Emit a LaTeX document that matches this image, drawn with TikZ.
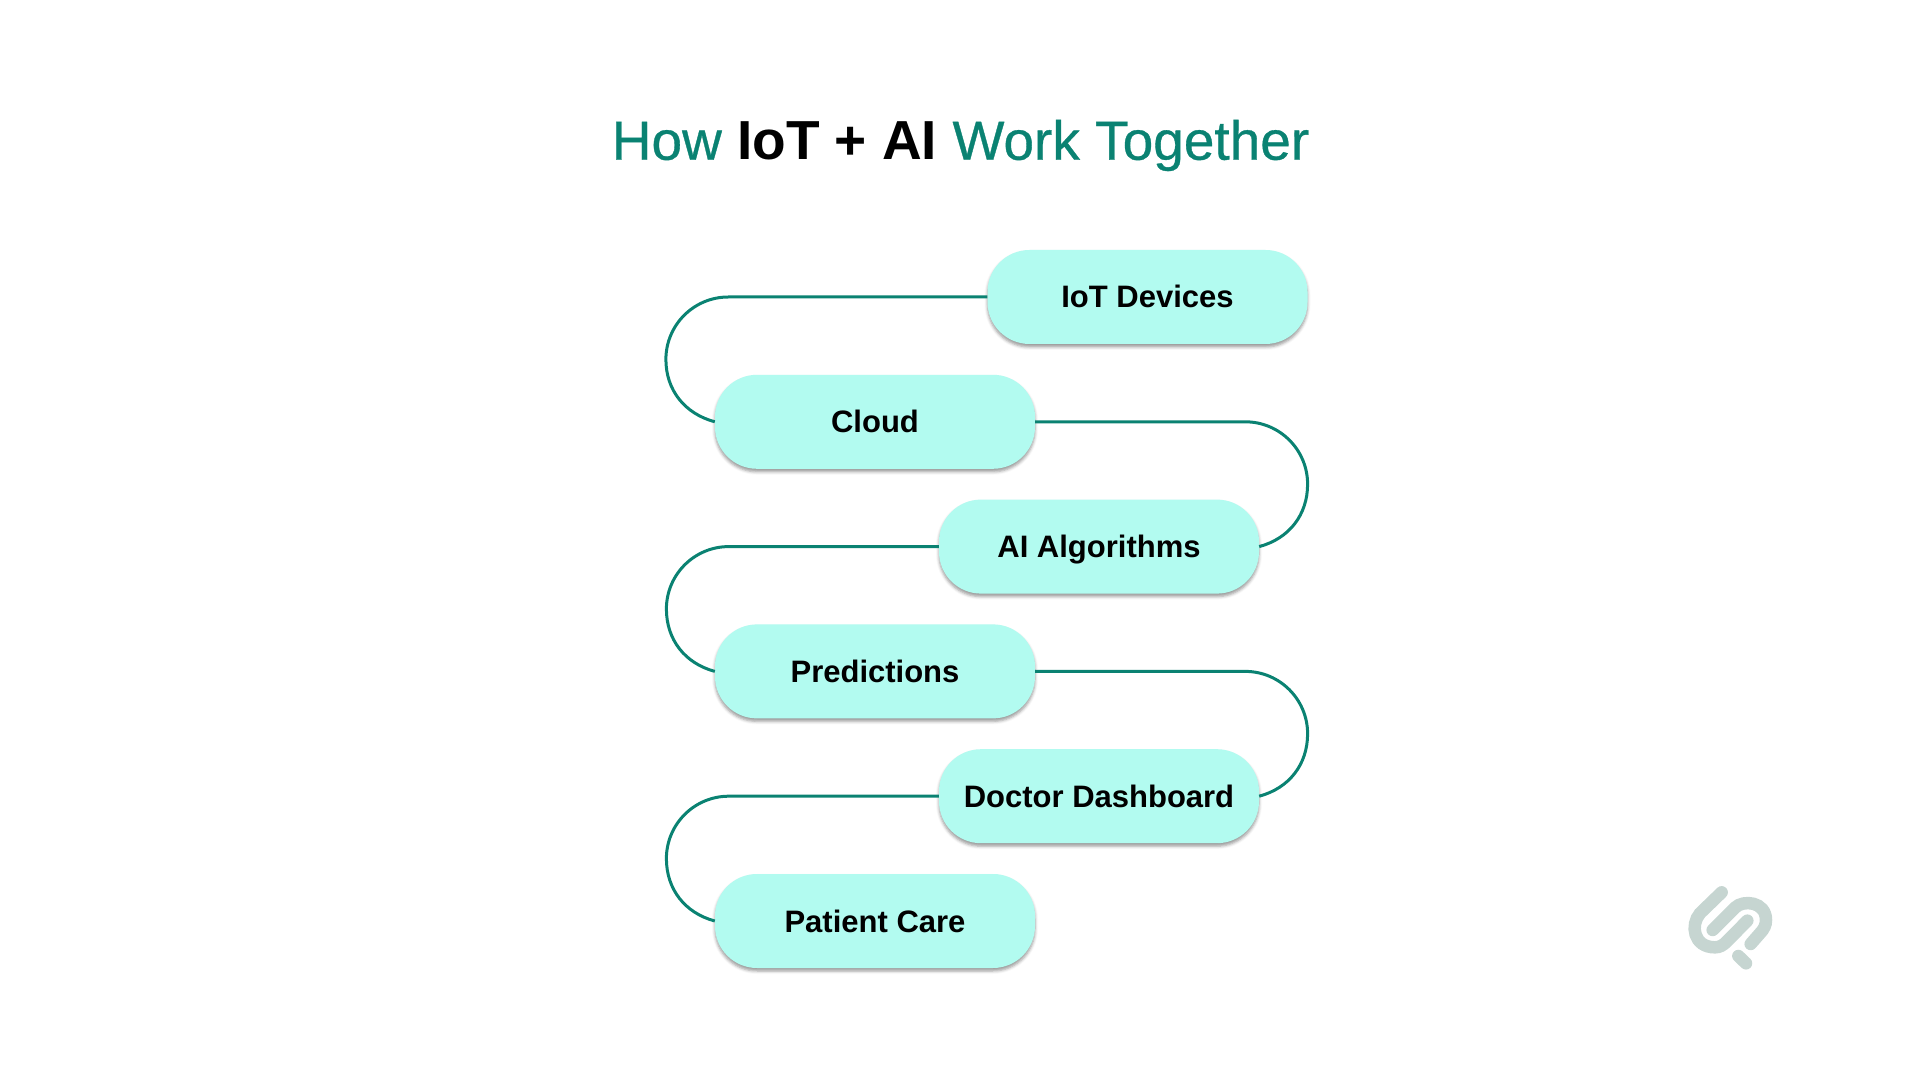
\documentclass[tikz,border=0pt]{standalone}
\usepackage{tikz}
\usepackage{xcolor}
\usepackage{fontspec}
\setmainfont{Liberation Sans}
\newfontfamily\titlefont[FakeBold=0.6]{Liberation Sans}
\usetikzlibrary{positioning,shadows.blur}
\definecolor{flowteal}{HTML}{0A8272}
\definecolor{flowfill}{HTML}{B2FBF0}
\definecolor{markgrey}{HTML}{C6D5D1}

\begin{document}
\begin{tikzpicture}[x=1pt,y=1pt,node distance=124.8pt,
                flow node/.style={rectangle,rounded corners=42pt,fill=flowfill,minimum width=320pt,minimum height=94pt,
                  inner sep=0pt,text height=22pt,text depth=0pt,font=\fontsize{31}{36}\selectfont\bfseries,
                  blur shadow={shadow xshift=0pt,shadow yshift=-3pt,shadow blur radius=3pt,shadow opacity=40}},
                link/.style={draw=flowteal,line width=3pt},
                mark line/.style={draw=markgrey,line width=12.5pt,line cap=round}]

  \useasboundingbox (0,0) rectangle (1920,1080);

  \node[font=\fontsize{55}{60}\selectfont,text=flowteal] (title) at (960.5,934.5)
    {\titlefont How {\normalfont\bfseries\color{black} IoT + AI} Work Together};

  \node[flow node] (iot) at (1147.5,783) {IoT Devices};
  \node[flow node, xshift=-272.5pt] (cloud) [below of=iot] {Cloud};
  \node[flow node, xshift=224pt] (ai) [below of=cloud] {AI Algorithms};
  \node[flow node, xshift=-224pt] (pred) [below of=ai] {Predictions};
  \node[flow node, xshift=224pt] (doc) [below of=pred] {Doctor Dashboard};
  \node[flow node, xshift=-224pt] (care) [below of=doc] {Patient Care};

  \draw[link] (iot.west) -- ++(-259,0) arc[start angle=90,end angle=180,radius=62.4] to[out=270,in=165] (cloud.west);
  \draw[link] (cloud.east) -- ++(210,0) arc[start angle=90,end angle=0,radius=62.4] to[out=270,in=15] (ai.east);
  \draw[link] (ai.west) -- ++(-210,0) arc[start angle=90,end angle=180,radius=62.4] to[out=270,in=165] (pred.west);
  \draw[link] (pred.east) -- ++(210,0) arc[start angle=90,end angle=0,radius=62.4] to[out=270,in=15] (doc.east);
  \draw[link] (doc.west) -- ++(-210,0) arc[start angle=90,end angle=180,radius=62.4] to[out=270,in=165] (care.west);

  \begin{scope}[shift={(1660,220)},x=.3333pt,y=-.3333pt]
    \draw[mark line] (185,97) -- (120,160) .. controls (90,195) and (100,262) .. (165,262) .. controls (180,262) and (190,255) .. (200,245) -- (262,182);
    \draw[mark line] (158,210) -- (225,143) .. controls (250,118) and (318,125) .. (318,180) .. controls (318,195) and (312,208) .. (300,220) -- (272,252);
    \draw[mark line] (235,288) -- (258,310);
  \end{scope}
\end{tikzpicture}
\end{document}
